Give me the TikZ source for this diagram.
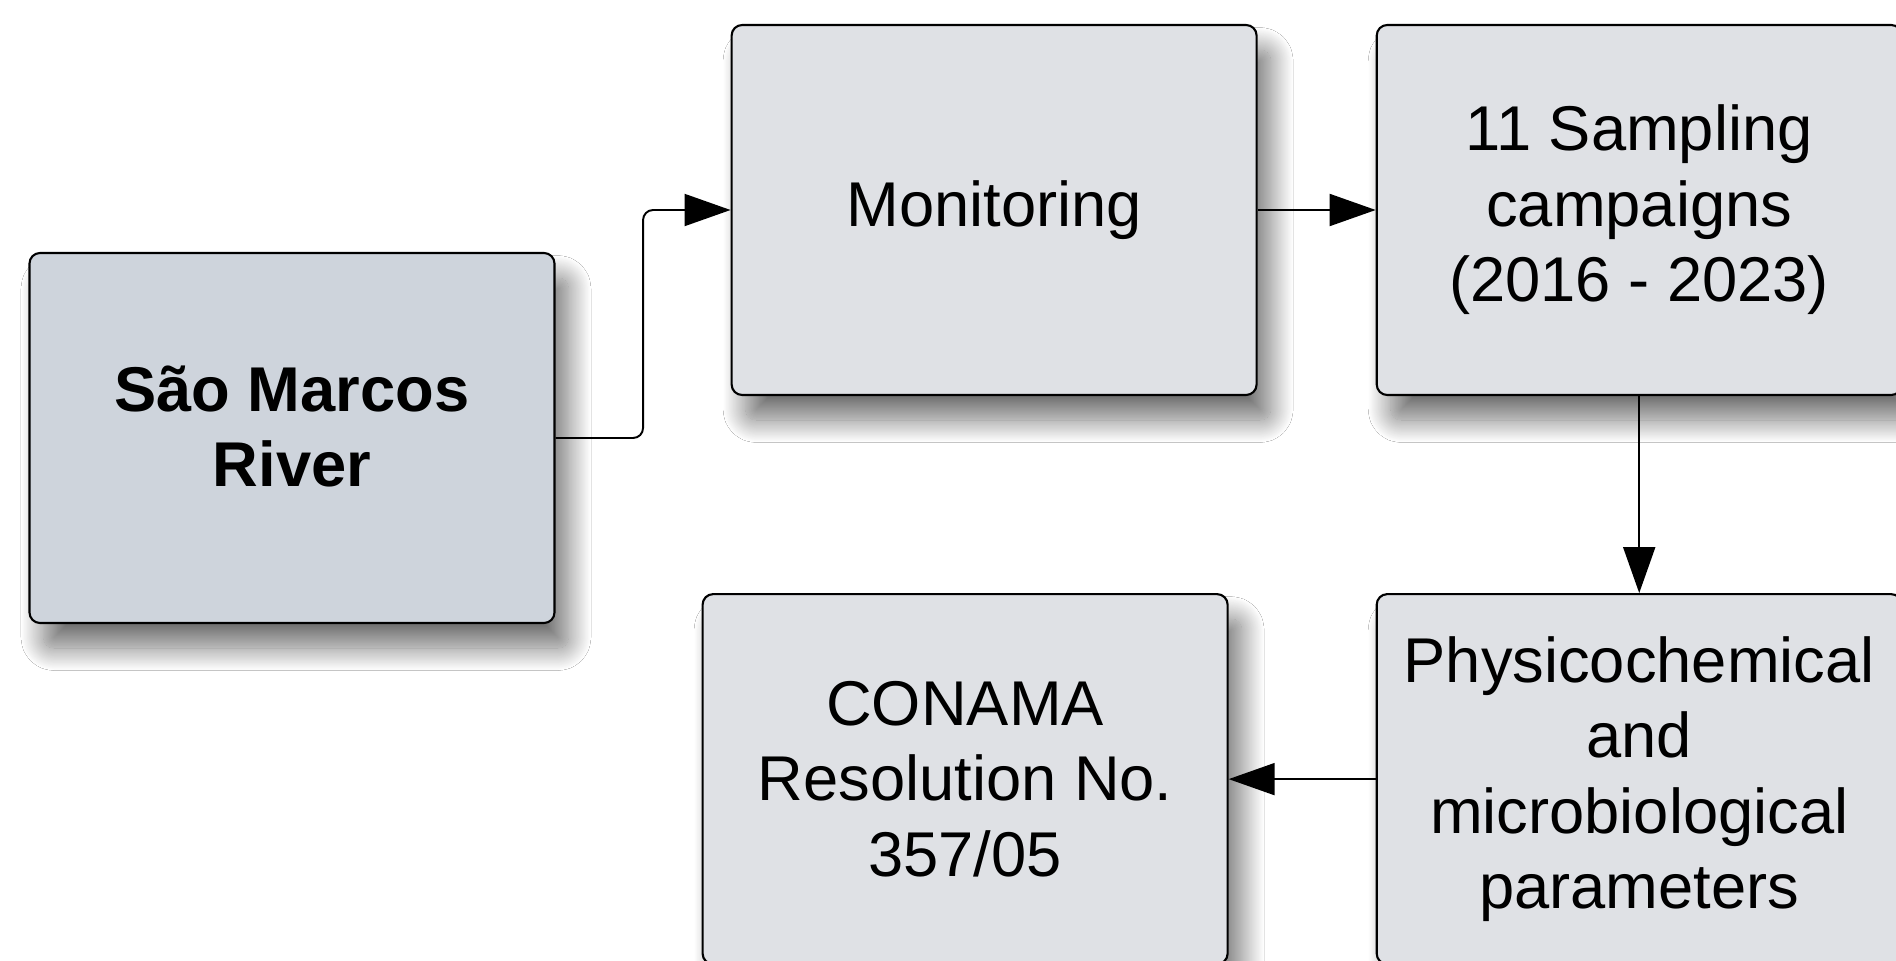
\documentclass[tikz,border=0pt]{standalone}
\usepackage{fontspec}
\setmainfont{Liberation Sans}
\usepackage{tikz}
\usetikzlibrary{arrows.meta,positioning,shadows.blur}
\usepackage{xcolor}
\definecolor{riverfill}{RGB}{206,212,220}
\definecolor{boxfill}{RGB}{223,225,229}

\begin{document}
\begin{tikzpicture}[
        source/.style={
            rectangle,
            rounded corners=6pt,
            minimum width=10.5cm,
            minimum height=7.4cm,
            text centered,
            draw=black,
            line width=1.2pt,
            fill=riverfill,
            font=\fontsize{36}{43}\selectfont\bfseries,
            align=center,
            blur shadow={shadow xshift=0.28cm, shadow yshift=-0.5cm, shadow blur radius=0.45cm, shadow blur steps=30, shadow opacity=55}
        },
        stage/.style={
            source,
            fill=boxfill,
            font=\fontsize{36}{43}\selectfont
        },
        arrow/.style={
            -{Triangle[length=0.92cm,width=0.64cm]},
            color=black,
            line width=1.1pt
        }
    ]

    % fixed frame of the picture
    \useasboundingbox (0,0) rectangle (37.92,-19.22);
    \fill[white] (0,0) rectangle (37.92,-19.22);

    % the river on the left
    \node[source] (river) at (5.84,-8.76) {São Marcos\\River\\[-1.04cm]};

    % upper row and right column
    \node[stage, right=3.5cm of river, yshift=4.56cm] (monitoring) {Monitoring};
    \node[stage, right=2.36cm of monitoring] (sampling) {11 Sampling\\campaigns\\(2016 - 2023)};
    \node[stage, below=3.94cm of sampling] (params) {Physicochemical\\and\\microbiological\\parameters};
    \node[stage, left=2.94cm of params] (conama) {CONAMA\\Resolution No.\\357/05};

    % connection arrows
    \draw[arrow, rounded corners=0.2cm] (river.east) -- ++(1.75,0) |- (monitoring.west);
    \draw[arrow] (monitoring) -- (sampling);
    \draw[arrow] (sampling) -- (params);
    \draw[arrow] (params) -- (conama);

\end{tikzpicture}
\end{document}
